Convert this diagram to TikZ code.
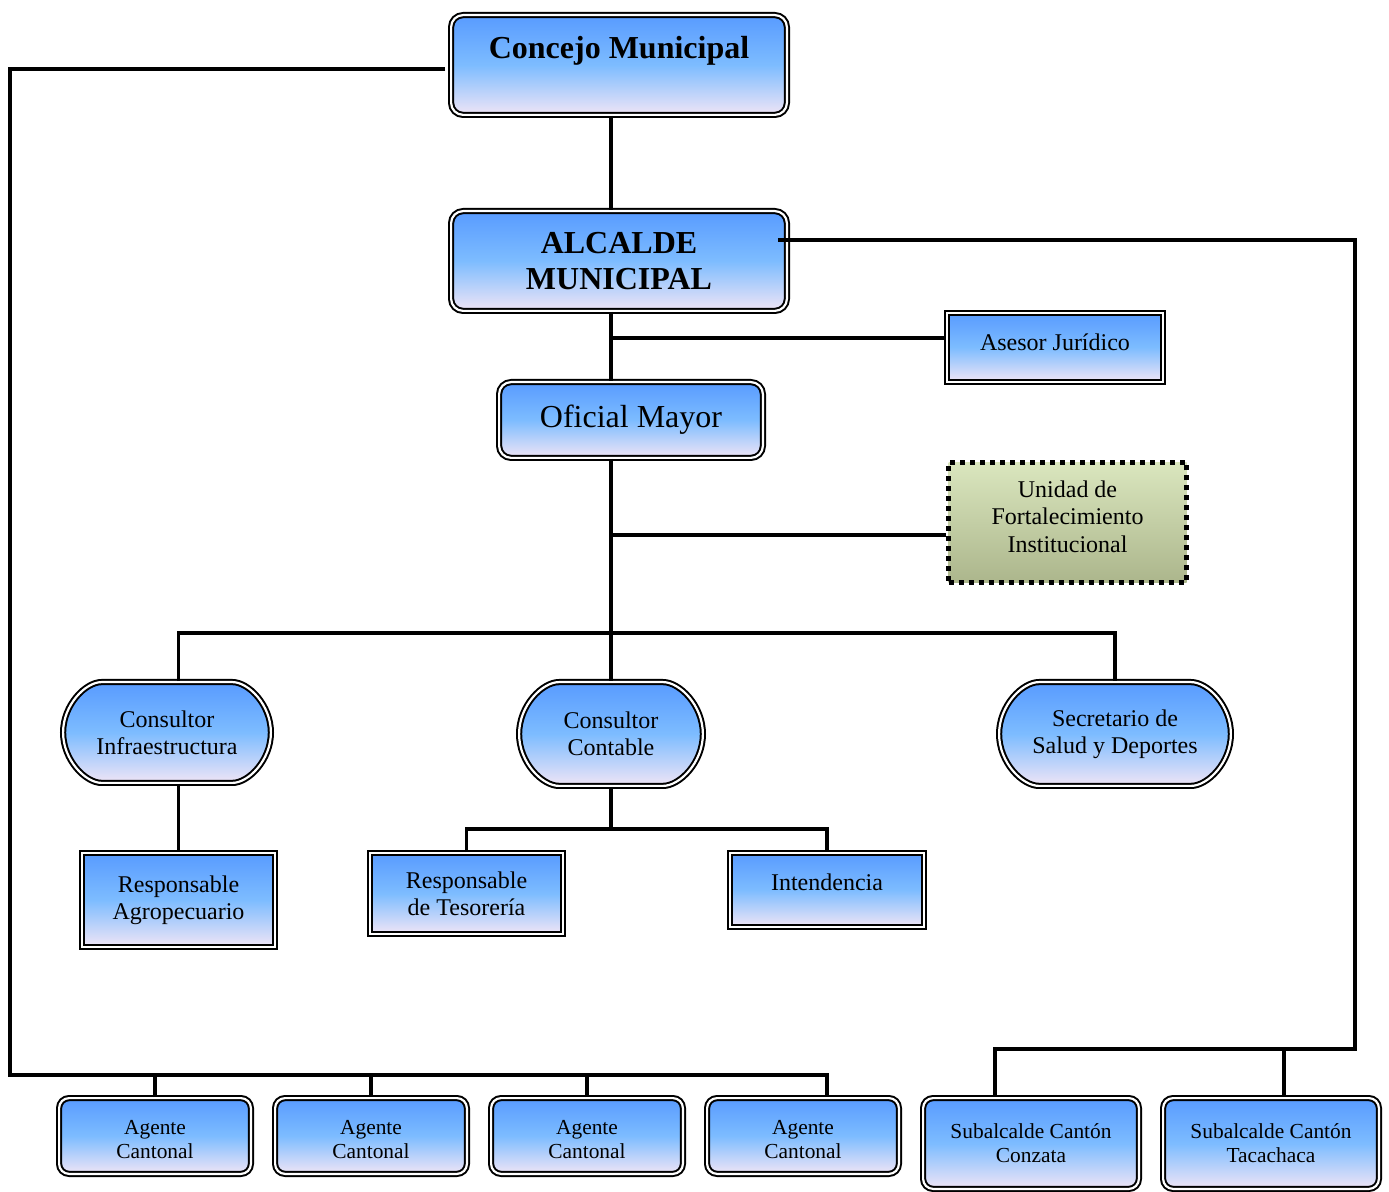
\documentclass[tikz,border=0pt]{standalone}
\usepackage{fontspec}
\setmainfont{Liberation Serif}
\usetikzlibrary{shapes.misc}
\definecolor{topblue}{RGB}{88,155,255}
\definecolor{midblue}{RGB}{125,188,255}
\definecolor{lowlilac}{RGB}{240,229,246}
\definecolor{topgreen}{RGB}{218,230,190}
\definecolor{lowgreen}{RGB}{172,182,140}
\tikzset{
  box/.style={draw, double, line width=1pt, double distance=1.1pt,
    rounded corners=6pt, top color=topblue, bottom color=lowlilac,
    middle color=midblue, align=center, inner sep=2pt,
    font=\fontsize{12}{13.6}\selectfont},
  sqbox/.style={box, sharp corners},
  pillbox/.style={box, rounded rectangle},
  smallbox/.style={box, rounded corners=5pt, font=\fontsize{10.7}{12}\selectfont},
  dotbox/.style={draw, line width=2.5pt, dash pattern=on 2.5pt off 2.5pt,
    top color=topgreen, bottom color=lowgreen, align=center,
    font=\fontsize{12}{13.8}\selectfont},
  conn/.style={line width=1.8pt}
}
\begin{document}
\begin{tikzpicture}[x=0.5pt,y=-0.5pt]
\useasboundingbox (0,0) rectangle (1389,1192);
% cargos
\node[box, minimum width=167.9pt, minimum height=49.9pt,
  label={[yshift=7pt, font=\fontsize{16}{17.5}\selectfont\bfseries]center:Concejo Municipal}]
  (concejo) at (619,65) {};
\node[box, minimum width=167.9pt, minimum height=49.9pt,
  font=\fontsize{16}{18}\selectfont\bfseries] (alcalde) at (619,261) {ALCALDE\\MUNICIPAL};
\node[sqbox, minimum width=107.9pt, minimum height=34.4pt,
  label={[yshift=2.5pt, font=\fontsize{12}{13.6}\selectfont]center:Asesor Jurídico}]
  (asesor) at (1055,347.5) {};
\node[box, minimum width=131.9pt, minimum height=37.9pt,
  font=\fontsize{16}{18}\selectfont] (oficial) at (631,420) {Oficial Mayor};
\node[dotbox, minimum width=119pt, minimum height=60pt,
  label={[yshift=3pt, align=center, font=\fontsize{12}{13.8}\selectfont]center:Unidad de\\Fortalecimiento\\Institucional}]
  (unidad) at (1067.5,522.5) {};
\node[pillbox, minimum width=107.9pt, minimum height=50.4pt] (consinfra) at (167,732.5) {Consultor\\Infraestructura};
\node[pillbox, minimum width=95.9pt, minimum height=51.9pt] (conscont) at (611,734) {Consultor\\Contable};
\node[pillbox, minimum width=119.9pt, minimum height=51.9pt] (secret) at (1115,734) {Secretario de\\Salud y Deportes};
\node[sqbox, minimum width=96.4pt, minimum height=46.9pt] (respagro) at (178.5,900) {Responsable\\Agropecuario};
\node[sqbox, minimum width=96.4pt, minimum height=40.4pt] (tesor) at (466.5,893.5) {Responsable\\de Tesorería};
\node[sqbox, minimum width=96.9pt, minimum height=36.9pt,
  label={[yshift=4pt, font=\fontsize{12}{13.6}\selectfont]center:Intendencia}]
  (intend) at (827,890) {};
\foreach \n/\x in {ag1/155, ag2/371, ag3/587, ag4/803}
  \node[smallbox, minimum width=95.9pt, minimum height=37.9pt,
    label={[yshift=-2pt, align=center, font=\fontsize{10.7}{12}\selectfont]center:Agente\\Cantonal}]
    (\n) at (\x,1136) {};
\node[smallbox, minimum width=107.9pt, minimum height=45.4pt] (sub1) at (1031,1143.5) {Subalcalde Cantón\\Conzata};
\node[smallbox, minimum width=107.9pt, minimum height=45.4pt] (sub2) at (1271,1143.5) {Subalcalde Cantón\\Tacachaca};
% puntos de enlace
\coordinate (lcorner) at (10,1075);
\coordinate (agend) at (827,1075);
\coordinate (rbot) at (1355,1049);
\coordinate (sub1top) at (995,1049);
\coordinate (sub2top) at (1284,1049);
\coordinate (asbranch) at (611,338);
\coordinate (unbranch) at (611,535);
\coordinate (bus) at (611,633);
\coordinate (cbus) at (611,829);
% lineas
\draw[conn] (concejo.south -| conscont.north) -- (alcalde.north -| conscont.north);
\draw[conn] ([xshift=-2.5pt, yshift=-2pt]concejo.west) -| (lcorner) -- (agend) -- (agend |- ag4.north);
\foreach \n in {ag1,ag2,ag3}
  \draw[conn] (\n.north) -- (\n.north |- lcorner);
\draw[conn] ([xshift=-5pt, yshift=10.5pt]alcalde.east) -| (rbot) -- (sub1top) -- (sub1top |- sub1.north);
\draw[conn] (sub2top) -- (sub2top |- sub2.north);
\draw[conn] (alcalde.south -| conscont.north) -- (oficial.north -| conscont.north);
\draw[conn] (asbranch) -- (asbranch -| asesor.west);
\draw[conn] (oficial.south -| conscont.north) -- (conscont.north);
\draw[conn] (unbranch) -- (unbranch -| unidad.west);
\draw[conn] (consinfra.north -| respagro.north) |- (bus) -| (secret.north);
\draw[conn] (consinfra.south -| respagro.north) -- (respagro.north);
\draw[conn] (conscont.south) -- (cbus);
\draw[conn] (tesor.north) |- (cbus) -| (intend.north);
\end{tikzpicture}
\end{document}
